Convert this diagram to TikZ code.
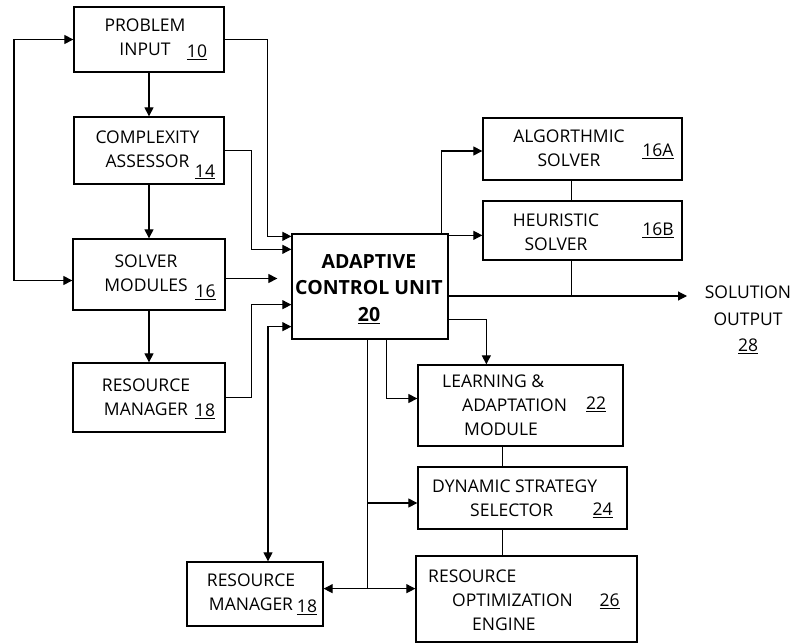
\documentclass[tikz,border=0pt]{standalone}
\usepackage{fontspec}
\setmainfont{Open Sans}
\usepackage{tikz}
\usetikzlibrary{arrows.meta,calc}

\tikzset{
  blk/.style={draw, line width=1.3pt, inner sep=0pt},
  txt/.style={inner sep=0pt, align=center, font=\fontsize{17.5}{24}\selectfont},
  num/.style={inner sep=0pt, font=\fontsize{17.5}{24}\selectfont},
  wire/.style={line width=1.1pt}
}

\begin{document}
\begin{tikzpicture}[x=1pt, y=-1pt, >={Triangle[length=9pt,width=9pt]}]
    \useasboundingbox (0,0) rectangle (799,644);
    % left column
    \node[blk, minimum width=150pt, minimum height=65pt] (pi) at (149,39.5) {};
    \node[txt] (pi-t) at (145,37.5) {PROBLEM\\INPUT};
    \node[num] (pi-n) at (197,52) {\underline{10}};
    \node[blk, minimum width=150pt, minimum height=67pt] (ca) at (149,150.5) {};
    \node[txt] (ca-t) at (147.5,149) {COMPLEXITY\\ASSESSOR};
    \node[num] (ca-n) at (205,172) {\underline{14}};
    \node[blk, minimum width=152pt, minimum height=71pt] (sm) at (149,274.5) {};
    \node[txt] (sm-t) at (146,273) {SOLVER\\MODULES};
    \node[num] (sm-n) at (205.5,292) {\underline{16}};
    \node[blk, minimum width=152pt, minimum height=69pt] (rm1) at (149,397.5) {};
    \node[txt] (rm1-t) at (146,397) {RESOURCE\\MANAGER};
    \node[num] (rm1-n) at (205,411) {\underline{18}};
    % control unit
    \node[blk, minimum width=156pt, minimum height=105pt] (acu) at (370,286.5) {};
    \node[txt, font=\fontsize{19.5}{26.5}\selectfont\bfseries] (acu-t) at (369,289) {ADAPTIVE\\CONTROL UNIT\\\underline{20}};
    % solvers
    \node[blk, minimum width=199pt, minimum height=62pt] (alg) at (582.5,149) {};
    \node[txt] (alg-t) at (569,148) {ALGORTHMIC\\SOLVER};
    \node[num] (alg-n) at (658,151) {\underline{16A}};
    \node[blk, minimum width=199pt, minimum height=59pt] (heu) at (582.5,230.5) {};
    \node[txt] (heu-t) at (556,232.5) {HEURISTIC\\SOLVER};
    \node[num] (heu-n) at (658,230) {\underline{16B}};
    \node[txt, font=\fontsize{17.5}{26.5}\selectfont] (sol-t) at (748,320) {SOLUTION\\OUTPUT\\\underline{28}};
    % lower right
    \node[blk, minimum width=205pt, minimum height=81pt] (lrn) at (520.5,405.5) {};
    \node[txt, align=left, anchor=west] (lrn-t) at (442,405) {LEARNING \&\\\hspace*{20pt}ADAPTATION\\\hspace*{22pt}MODULE};
    \node[num] (lrn-n) at (596,404) {\underline{22}};
    \node[blk, minimum width=209pt, minimum height=62pt] (dyn) at (522.5,498) {};
    \node[txt, align=left, anchor=west] (dyn-t) at (432,498) {DYNAMIC STRATEGY\\\hspace*{38pt}SELECTOR};
    \node[num] (dyn-n) at (602.5,510) {\underline{24}};
    \node[blk, minimum width=221pt, minimum height=86pt] (roe) at (526.5,599) {};
    \node[txt, align=left, anchor=west] (roe-t) at (428,600) {RESOURCE\\\hspace*{24pt}OPTIMIZATION\\\hspace*{44pt}ENGINE};
    \node[num] (roe-n) at (609.5,601) {\underline{26}};
    \node[blk, minimum width=136pt, minimum height=64pt] (rm2) at (255,594) {};
    \node[txt] (rm2-t) at (251,592) {RESOURCE\\MANAGER};
    \node[num] (rm2-n) at (307,607) {\underline{18}};
    \coordinate (out) at (687,296);
    \coordinate (bus) at ($(acu.south west)+(76,249)$);

    % left side
    \draw[wire,<->] (pi.west) -| (14,160) |- ([yshift=-6pt]sm.west);
    \draw[wire,->] (pi) -- (ca);
    \draw[wire,->] (ca) -- (sm);
    \draw[wire,->] (sm) -- (rm1);
    \draw[wire,->] (pi.east) -| ($(acu.north west)+(-24,3)$) -- ($(acu.north west)+(0,3)$);
    \draw[wire,->] (ca.east) -| ($(acu.north west)+(-40,16)$) -- ($(acu.north west)+(0,16)$);
    \draw[wire,->,shorten >=14pt] ([yshift=-4pt]sm.east) -- ([yshift=-4pt]sm.east -| acu.west);
    \draw[wire,->] (rm1.east) -| ($(acu.south west)+(-40,-35)$) -- ($(acu.south west)+(0,-35)$);
    \draw[wire,<->] ([xshift=13pt]rm2.north) |- ($(acu.south west)+(0,-13)$);
    % right side
    \draw[wire,->] ([xshift=-7pt]acu.north east) |- ([yshift=-2pt]alg.west);
    \draw[wire,->] ([yshift=-2pt]acu.north east) -- ([yshift=-2pt]acu.north east -| heu.west);
    \draw[wire] ([xshift=-11pt]alg.south) -- ([xshift=-11pt]heu.north);
    \draw[wire] ([xshift=-11pt]heu.south) -- ([xshift=-11pt]heu.south |- out);
    \draw[wire,->] (acu.east |- out) -- (out);
    \draw[wire,->] ($(acu.south east)+(0,-20)$) -| ($(lrn.north west)+(69,0)$);
    \draw[wire,->] ($(acu.south west)+(95,0)$) |- ([yshift=7pt]lrn.west);
    \draw[wire] (bus |- acu.south) -- (bus);
    \draw[wire,->] ([yshift=-5pt]bus |- dyn.west) -- ([yshift=-5pt]dyn.west);
    \draw[wire,<->] (rm2.east |- bus) -- (roe.west |- bus);
    \draw[wire] ([xshift=-18pt]lrn.south) -- ([xshift=-18pt]lrn.south |- dyn.north);
    \draw[wire] ([xshift=-20pt]dyn.south) -- ([xshift=-20pt]dyn.south |- roe.north);
\end{tikzpicture}
\end{document}
